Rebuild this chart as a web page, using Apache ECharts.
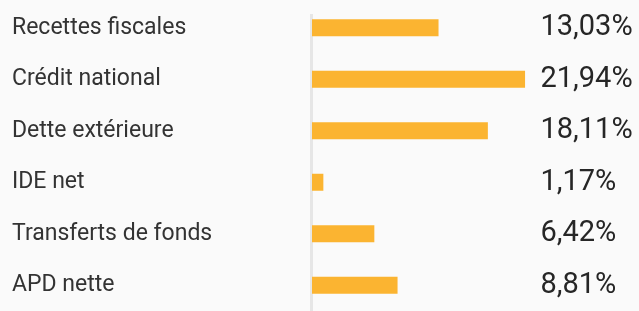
<!DOCTYPE html>
<html>
<head>
<meta charset="utf-8">
<script src="https://cdn.jsdelivr.net/npm/echarts@6/dist/echarts.min.js"></script>
<style>
  html, body { margin: 0; padding: 0; background: #fafafa; }
  #myChart { width: 639px; height: 311px; }
</style>
</head>
<body>
<div id="myChart"></div>
<script>
// categories, top to bottom
var categories = ["Recettes fiscales", "Crédit national", "Dette extérieure", "IDE net", "Transferts de fonds", "APD nette"];
// share in percent
var shares = [13.03, 21.94, 18.11, 1.17, 6.42, 8.81];
var shareLabels = ["13,03%", "21,94%", "18,11%", "1,17%", "6,42%", "8,81%"];

var myChart = echarts.init(document.getElementById("myChart"));

var option = {
  backgroundColor: "#fafafa",
  animation: false,
  grid: {
    left: 312,
    top: 2,
    width: 218.5,
    height: 320
  },
  xAxis: {
    type: "value",
    min: 0,
    max: 22.5,
    show: false
  },
  yAxis: [
    {
      type: "category",
      inverse: true,
      data: categories,
      axisLine: { show: false },
      axisTick: { show: false },
      axisLabel: {
        align: "left",
        margin: 300,
        color: "#333",
        fontFamily: "Roboto",
        fontSize: 23
      }
    },
    {
      type: "category",
      inverse: true,
      position: "right",
      data: shareLabels,
      axisLine: { show: false },
      axisTick: { show: false },
      axisLabel: {
        align: "left",
        margin: 10,
        color: "#262626",
        fontFamily: "Roboto",
        fontSize: 29
      }
    }
  ],
  // thin grey separator to the left of the bars
  graphic: [
    {
      type: "line",
      shape: { x1: 311.5, y1: 14, x2: 311.5, y2: 311 },
      style: { stroke: "#e6e6e6", lineWidth: 3 }
    }
  ],
  series: [
    {
      type: "bar",
      data: shares,
      barWidth: 17,
      itemStyle: { color: "#fbb431" },
      silent: true
    }
  ]
};

myChart.setOption(option);
</script>
</body>
</html>
